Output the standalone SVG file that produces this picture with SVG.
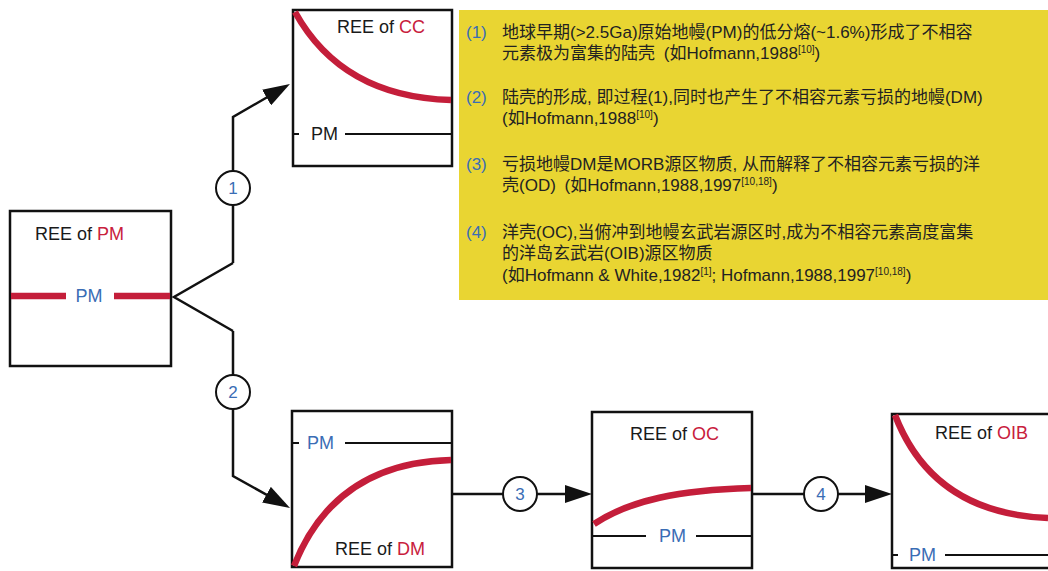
<svg xmlns="http://www.w3.org/2000/svg" width="1048" height="571" viewBox="0 0 1048 571">
<defs>
<style>
.box{fill:#fff;stroke:#111;stroke-width:2.5}
.curve{fill:none;stroke:#C41E3A;stroke-width:6.5}
.ln{fill:none;stroke:#111;stroke-width:2}
.conn{fill:none;stroke:#111;stroke-width:2.5}
.lbl{font-family:"Liberation Sans",Arial,sans-serif;font-size:18px;fill:#1a1a1a}
.red{fill:#C8203C}
.blue{fill:#3A6DB5}
.num{font-family:"Liberation Sans",Arial,sans-serif;font-size:17px;fill:#3A6DB5;text-anchor:middle}
.circ{fill:#fff;stroke:#111;stroke-width:2}
.note{font-family:"Liberation Sans","Noto Sans CJK SC",sans-serif;font-size:17px;fill:#222}
.sup{font-size:10px}
</style>
<marker id="arr" markerUnits="userSpaceOnUse" viewBox="0 0 27 18" refX="17" refY="9" markerWidth="27" markerHeight="18" orient="auto">
<path d="M0,0 L27,9 L0,18 z" fill="#111"/>
</marker>
</defs>
<rect width="1048" height="571" fill="#fff"/>

<g id="notes">
<rect x="459" y="10" width="600" height="290" fill="#E9D532"/>
<text class="note" x="466" y="38"><tspan class="blue">(1)</tspan></text>
<text class="note" x="502" y="38">地球早期(&gt;2.5Ga)原始地幔(PM)的低分熔(~1.6%)形成了不相容</text>
<text class="note" x="502" y="59">元素极为富集的陆壳 <tspan dx="4">(如Hofmann,1988</tspan><tspan class="sup" dy="-6">[10]</tspan><tspan dy="6">)</tspan></text>
<text class="note" x="466" y="103"><tspan class="blue">(2)</tspan></text>
<text class="note" x="502" y="103">陆壳的形成, 即过程(1),同时也产生了不相容元素亏损的地幔(DM)</text>
<text class="note" x="502" y="124">(如Hofmann,1988<tspan class="sup" dy="-6">[10]</tspan><tspan dy="6">)</tspan></text>
<text class="note" x="466" y="170"><tspan class="blue">(3)</tspan></text>
<text class="note" x="502" y="170">亏损地幔DM是MORB源区物质, 从而解释了不相容元素亏损的洋</text>
<text class="note" x="502" y="191">壳(OD) <tspan dx="4">(如Hofmann,1988,1997</tspan><tspan class="sup" dy="-6">[10,18]</tspan><tspan dy="6">)</tspan></text>
<text class="note" x="466" y="238"><tspan class="blue">(4)</tspan></text>
<text class="note" x="502" y="238">洋壳(OC),当俯冲到地幔玄武岩源区时,成为不相容元素高度富集</text>
<text class="note" x="502" y="259">的洋岛玄武岩(OIB)源区物质</text>
<text class="note" x="502" y="281">(如Hofmann &amp; White,1982<tspan class="sup" dy="-6">[1]</tspan><tspan dy="6">; Hofmann,1988,1997</tspan><tspan class="sup" dy="-6">[10,18]</tspan><tspan dy="6">)</tspan></text>
</g>

<g id="node-pm">
<rect class="box" x="10" y="211" width="161" height="155"/>
<line x1="11" y1="296" x2="66" y2="296" stroke="#C41E3A" stroke-width="6.5"/>
<line x1="114" y1="296" x2="170" y2="296" stroke="#C41E3A" stroke-width="6.5"/>
<text class="lbl blue" x="89" y="302" text-anchor="middle">PM</text>
<text class="lbl" x="35" y="240">REE of <tspan class="red">PM</tspan></text>
</g>

<g id="node-cc">
<rect class="box" x="293" y="10" width="159" height="156"/>
<path class="curve" d="M295,12 C326,68 378,98 451,100"/>
<line class="ln" x1="293" y1="134" x2="299" y2="134"/>
<line class="ln" x1="345" y1="134" x2="452" y2="134"/>
<text class="lbl" x="311" y="140">PM</text>
<text class="lbl" x="337" y="33">REE of <tspan class="red">CC</tspan></text>
</g>

<g id="node-dm">
<rect class="box" x="292" y="411" width="160" height="156"/>
<path class="curve" d="M294,566 C320,500 370,462 451,460"/>
<line class="ln" x1="293" y1="443" x2="299" y2="443"/>
<line class="ln" x1="345" y1="443" x2="452" y2="443"/>
<text class="lbl blue" x="307" y="449">PM</text>
<text class="lbl" x="335" y="555">REE of <tspan class="red">DM</tspan></text>
</g>

<g id="node-oc">
<rect class="box" x="592" y="412" width="160" height="156"/>
<path class="curve" d="M594,524 C630,500 680,490 751,488"/>
<line class="ln" x1="593" y1="536" x2="646" y2="536"/>
<line class="ln" x1="696" y1="536" x2="752" y2="536"/>
<text class="lbl blue" x="659" y="542">PM</text>
<text class="lbl" x="630" y="440">REE of <tspan class="red">OC</tspan></text>
</g>

<g id="node-oib">
<rect class="box" x="892" y="414" width="170" height="154"/>
<path class="curve" d="M895,415 C920,480 970,515 1048,518"/>
<line class="ln" x1="893" y1="555" x2="898" y2="555"/>
<line class="ln" x1="945" y1="555" x2="1048" y2="555"/>
<text class="lbl blue" x="909" y="561">PM</text>
<text class="lbl" x="935" y="439">REE of <tspan class="red">OIB</tspan></text>
</g>

<g id="connectors">
<path class="conn" d="M233,263 L174,297 L233,331"/>
<path class="conn" d="M233,263 L233,117 L281.3,89" marker-end="url(#arr)"/>
<path class="conn" d="M233,331 L233,476 L281.3,503" marker-end="url(#arr)"/>
<path class="conn" d="M452,494 L582,494" marker-end="url(#arr)"/>
<path class="conn" d="M752,494 L882,494" marker-end="url(#arr)"/>
<g id="step1"><circle class="circ" cx="233" cy="188" r="17"/><text class="num" x="233" y="194">1</text></g>
<g id="step2"><circle class="circ" cx="233" cy="392" r="17"/><text class="num" x="233" y="398">2</text></g>
<g id="step3"><circle class="circ" cx="520" cy="494" r="17"/><text class="num" x="520" y="500">3</text></g>
<g id="step4"><circle class="circ" cx="821" cy="494" r="17"/><text class="num" x="821" y="500">4</text></g>
</g>
</svg>
